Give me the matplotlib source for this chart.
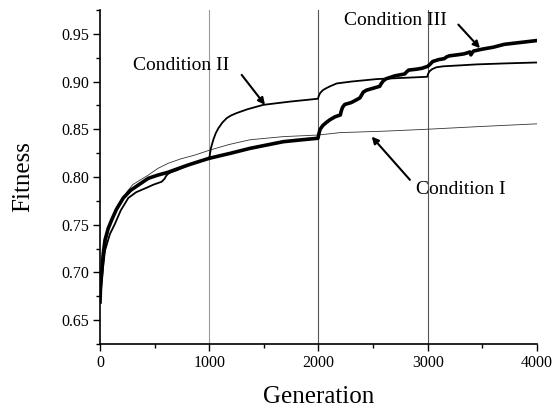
import matplotlib
matplotlib.use("Agg")
import matplotlib.pyplot as plt
from matplotlib.ticker import MultipleLocator, FormatStrFormatter

plt.rcParams['font.family'] = ['Liberation Serif', 'DejaVu Serif']

# Condition I (thin line)
gen_I = [0, 10, 30, 60, 100, 150, 198, 250, 300, 370, 442, 530, 625, 740, 870, 1000,
         1180, 1373, 1678, 2000, 2197, 2600, 2990, 3500, 4000]
fit_I = [0.669, 0.685, 0.710, 0.735, 0.755, 0.767, 0.776, 0.785, 0.792, 0.797, 0.802,
         0.809, 0.8144, 0.819, 0.823, 0.828, 0.834, 0.839, 0.8423, 0.844, 0.8465, 0.848,
         0.850, 0.853, 0.8557]

# Condition II (medium line)
gen_II = [0, 15, 30, 46, 90, 137, 190, 259, 330, 412, 490, 564, 590, 605, 620, 650, 700,
          808, 900, 1000, 1005, 1015, 1037, 1060, 1083, 1120, 1160, 1200, 1251, 1350,
          1495, 1739, 1995, 2003, 2015, 2040, 2070, 2105, 2166, 2300, 2532, 2800, 2995,
          3003, 3015, 3040, 3080, 3143, 3300, 3448, 3700, 4000]
fit_II = [0.669, 0.690, 0.708, 0.723, 0.740, 0.751, 0.765, 0.778, 0.784, 0.788, 0.792,
          0.795, 0.798, 0.801, 0.803, 0.805, 0.807, 0.8126, 0.816, 0.8196, 0.823, 0.830,
          0.839, 0.846, 0.851, 0.857, 0.8617, 0.8645, 0.867, 0.871, 0.8756, 0.879, 0.882,
          0.885, 0.888, 0.891, 0.893, 0.895, 0.898, 0.900, 0.9026, 0.904, 0.905, 0.908,
          0.9106, 0.913, 0.915, 0.916, 0.917, 0.918, 0.919, 0.920]

# Condition III (thick line)
gen_III = [0, 5, 15, 30, 46, 75, 107, 150, 213, 280, 351, 442, 530, 625, 720, 808, 900,
           1000, 1200, 1373, 1678, 1850, 1995, 2003, 2015, 2040, 2070, 2105, 2150, 2200,
           2208, 2220, 2240, 2300, 2350, 2380, 2395, 2410, 2440, 2500, 2560, 2575, 2595,
           2620, 2700, 2790, 2805, 2825, 2900, 2950, 3000, 3020, 3045, 3100, 3150, 3175,
           3200, 3270, 3330, 3360, 3385, 3395, 3405, 3420, 3500, 3600, 3700, 3850, 4000]
fit_III = [0.669, 0.685, 0.699, 0.720, 0.734, 0.746, 0.755, 0.766, 0.778, 0.786, 0.7916,
           0.7986, 0.802, 0.805, 0.809, 0.8126, 0.816, 0.8196, 0.825, 0.830, 0.837, 0.839,
           0.8406, 0.845, 0.850, 0.854, 0.857, 0.860, 0.863, 0.865, 0.869, 0.873, 0.876,
           0.878, 0.881, 0.883, 0.886, 0.889, 0.891, 0.893, 0.895, 0.898, 0.901, 0.903,
           0.906, 0.908, 0.910, 0.912, 0.913, 0.914, 0.916, 0.918, 0.921, 0.923, 0.924,
           0.926, 0.927, 0.928, 0.929, 0.930, 0.931, 0.928, 0.930, 0.932, 0.934, 0.936,
           0.939, 0.941, 0.943]

vlines = [1000, 2000, 3000]
vline_colors = ['#9a9a9a', '#555555', '#555555']

fig = plt.figure(figsize=(5.54, 4.08), dpi=100)
ax = fig.add_axes([0.1805, 0.1569, 0.7888, 0.8186])

for xv, c in zip(vlines, vline_colors):
    ax.axvline(xv, color=c, lw=0.8, zorder=1)

ax.plot(gen_I, fit_I, color='#333333', lw=0.6, zorder=3)
ax.plot(gen_II, fit_II, color='black', lw=1.3, zorder=4)
ax.plot(gen_III, fit_III, color='black', lw=2.6, zorder=5, solid_joinstyle='round')

ax.set_xlim(0, 4000)
ax.set_ylim(0.625, 0.975)
ax.xaxis.set_major_locator(MultipleLocator(1000))
ax.xaxis.set_minor_locator(MultipleLocator(500))
ax.yaxis.set_major_locator(MultipleLocator(0.05))
ax.yaxis.set_minor_locator(MultipleLocator(0.025))
ax.yaxis.set_major_formatter(FormatStrFormatter('%.2f'))
ax.tick_params(which='major', direction='out', length=5, width=1, labelsize=11.5, pad=3)
ax.tick_params(which='minor', direction='out', length=3, width=1)
for s in ['top', 'right']:
    ax.spines[s].set_visible(False)
for s in ['left', 'bottom']:
    ax.spines[s].set_linewidth(1.2)

ax.set_xlabel('Generation', fontsize=18, labelpad=11)
ax.set_ylabel('Fitness', fontsize=18, labelpad=19)

arrow = dict(arrowstyle='-|>', color='black', lw=1.5, mutation_scale=10, shrinkA=0, shrinkB=0)
ax.text(740, 0.917, 'Condition II', fontsize=14, ha='center', va='center')
ax.annotate('', xy=(1510, 0.8756), xytext=(1297, 0.907), arrowprops=arrow)
ax.text(2700, 0.9637, 'Condition III', fontsize=14, ha='center', va='center')
ax.annotate('', xy=(3478, 0.935), xytext=(3280, 0.9597), arrowprops=arrow)
ax.text(3305, 0.7866, 'Condition I', fontsize=14, ha='center', va='center')
ax.annotate('', xy=(2487, 0.8423), xytext=(2837, 0.797), arrowprops=arrow)

fig.savefig('out.png', dpi=100)
